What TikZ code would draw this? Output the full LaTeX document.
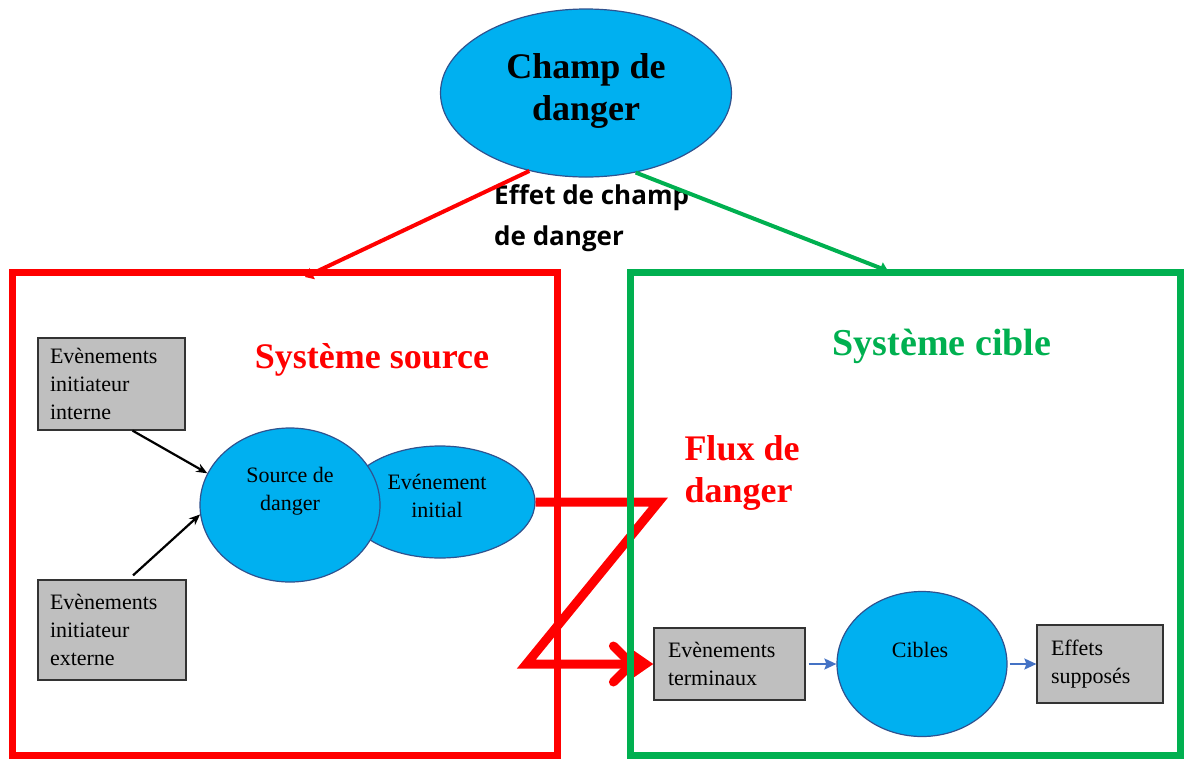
\documentclass[tikz,border=0pt]{standalone}
\usepackage{fontspec}
\setmainfont{Liberation Serif}
\newfontfamily\osans{Open Sans}
\usetikzlibrary{arrows.meta,shapes.geometric,calc}
\definecolor{cyanfill}{HTML}{00B0F0}
\definecolor{edgeblue}{HTML}{2F528F}
\definecolor{mygreen}{HTML}{00B050}
\definecolor{mygray}{HTML}{BFBFBF}
\definecolor{arrblue}{HTML}{4472C4}
\tikzset{
  blob/.style={ellipse, draw=edgeblue, line width=1.2pt, fill=cyanfill, inner sep=0pt},
  gbox/.style={rectangle, draw=black!80, line width=1.2pt, fill=mygray, inner ysep=0pt, align=left,
    font=\fontsize{22}{28}\selectfont},
  ctext/.style={align=center, font=\fontsize{22}{28}\selectfont, inner sep=0pt},
  bigtitle/.style={align=left, font=\fontsize{36}{42}\selectfont\bfseries, inner sep=0pt},
  blk/.style={draw=black, line width=2.2pt, -{Stealth[length=11pt,width=9pt]}},
  bluearr/.style={draw=arrblue, line width=1.8pt, -{Stealth[length=12pt,width=11pt,inset=2pt]}},
  frame/.style={line width=7pt},
  flux/.style={red, line width=9pt}
}
\begin{document}
\begin{tikzpicture}[x=1pt,y=-1pt]
\useasboundingbox (0,0) rectangle (1184,761);
% top ellipse
\node[blob, minimum width=291, minimum height=168] (champ) at (586,93) {};
\node[bigtitle, align=center] (champt) at (586,91) {Champ de\\danger};
\node[align=left, anchor=west, inner sep=0pt, font=\fontsize{26}{41}\selectfont\osans\bfseries] (effet) at (494,218) {Effet de champ\\de danger};
% frames
\draw[frame, red] (12,272) rectangle (557,755);
\coordinate (srctop) at (305,277);
\coordinate (cibtop) at (888,271);
\draw[red, line width=4pt, -{Triangle[length=8pt,width=12pt]}] (champ.234) -- (srctop);
\draw[mygreen, line width=4pt, -{Triangle[length=8pt,width=12pt]}] (champ.302) -- (cibtop);
% titles
\node[bigtitle, text=red] (ss) at (372,360) {Système source};
\node[bigtitle, text=mygreen, font=\fontsize{38}{44}\selectfont\bfseries] (sc) at (942,346) {Système cible};
\node[bigtitle, text=red] (flux) at (742,473) {Flux de\\danger};
% source system
\node[gbox, text width=123pt, inner xsep=12pt, minimum height=92pt] (g1) at (111.5,384) {Evènements\\initiateur\\interne};
\node[gbox, text width=124pt, inner xsep=12pt, minimum height=100pt] (g2) at (112,630) {Evènements\\initiateur\\externe};
\node[blob, minimum width=190, minimum height=112] (ei) at (440,502) {};
\node[blob, minimum width=180, minimum height=154] (sd) at (290,505) {};
\node[ctext] (sdt) at (290,491) {Source de\\danger};
\node[ctext] (eit) at (437,496) {Evénement\\initial};
\draw[blk] ($(g1.south)+(21,0)$) -- (sd.159);
\draw[blk] ($(g2.north)+(21,-4)$) -- (sd.186);
% target system
\node[gbox, text width=123pt, inner xsep=14pt, minimum height=72pt] (tb) at (729.5,664) {Evènements\\terminaux};
\node[blob, minimum width=170, minimum height=145] (cib) at (922,664) {};
\node[ctext] (cibt) at (920,650) {Cibles};
\node[gbox, text width=98pt, inner xsep=14pt, minimum height=78pt] (ef) at (1100,664) {Effets\\supposés};
\draw[bluearr] (tb.east) ++(3,0) -- (cib.west);
\draw[bluearr] (cib.east) ++(2,0) -- (ef.west);
% flux
\coordinate (f1) at ($(ei.east)+(123,0)$);
\coordinate (f2) at ($(tb.west)+(-127,0)$);
\draw[flux, line join=miter, -{Triangle[length=20pt,width=26pt]}] (ei.east) -- (f1) -- (f2) -- (tb.west);
\draw[flux, line cap=round, line join=round] ($(tb.west)+(-40,-18)$) -- ($(tb.west)+(-24,-2)$)
  ($(tb.west)+(-40,18)$) -- ($(tb.west)+(-24,2)$);
\draw[frame, mygreen] (630,272) rectangle (1180,755);
\end{tikzpicture}
\end{document}
